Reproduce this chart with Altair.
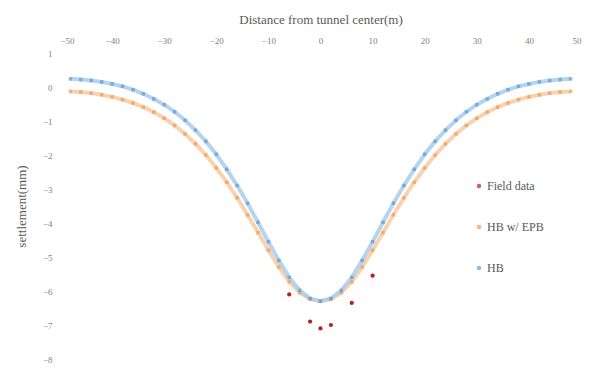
import altair as alt
import pandas as pd

# distances (m) for model curves, symmetric about tunnel center
half_x = [0, 2, 4, 6, 8, 10, 12, 14, 16, 18, 20, 22, 24, 26, 28, 30, 32, 34, 36, 38, 40, 42, 44, 46, 48]
hb_half = [-6.30, -6.22, -5.98, -5.60, -5.10, -4.55, -3.98, -3.42, -2.90, -2.42, -1.98, -1.60, -1.27,
           -0.98, -0.73, -0.52, -0.35, -0.20, -0.08, 0.02, 0.09, 0.15, 0.19, 0.22, 0.24]
epb_half = [-6.30, -6.24, -6.05, -5.73, -5.30, -4.80, -4.28, -3.76, -3.26, -2.80, -2.38, -2.00, -1.67,
            -1.38, -1.13, -0.92, -0.74, -0.59, -0.47, -0.37, -0.29, -0.23, -0.18, -0.15, -0.13]

field_x = [-6, -2, 0, 2, 6, 10]
field_y = [-6.1, -6.9, -7.1, -7.0, -6.35, -5.55]

x_ticks = [-50, -40, -30, -20, -10, 0, 10, 20, 30, 40, 50]
y_ticks = [1, 0, -1, -2, -3, -4, -5, -6, -7, -8]

series_names = ["Field data", "HB w/ EPB", "HB"]
series_colors = ["#B22222", "#EE9A55", "#5B9BD5"]
line_colors = ["#B22222", "#F8CBA0", "#A9CDEB"]

full_x = [-v for v in reversed(half_x[1:])] + half_x
hb_full = list(reversed(hb_half[1:])) + hb_half
epb_full = list(reversed(epb_half[1:])) + epb_half

model = pd.DataFrame({
    "x": full_x * 2,
    "y": epb_full + hb_full,
    "series": ["HB w/ EPB"] * len(full_x) + ["HB"] * len(full_x),
})
field = pd.DataFrame({"x": field_x, "y": field_y, "series": ["Field data"] * len(field_x)})

serif = "Times New Roman"

xs = alt.Scale(domain=[-50, 50], nice=False, zero=False)
ys = alt.Scale(domain=[-8, 1], nice=False, zero=False)

x_enc = alt.X("x:Q", scale=xs, axis=alt.Axis(
    orient="top", values=x_ticks, title="Distance from tunnel center(m)", format="d",
    titlePadding=10, labelPadding=8))
y_enc = alt.Y("y:Q", scale=ys, axis=alt.Axis(
    values=y_ticks, title="settlement(mm)", format="d",
    titlePadding=14, labelPadding=8))

color_scale = alt.Scale(domain=series_names, range=series_colors)
color_legend = alt.Color("series:N", scale=color_scale,
                         legend=alt.Legend(
                             title=None, orient="none", legendX=413, legendY=127,
                             symbolType="circle", symbolSize=20, rowPadding=29,
                             labelOffset=2))

lines = alt.Chart(model).mark_line(strokeWidth=4, opacity=0.85).encode(
    x=x_enc, y=y_enc,
    stroke=alt.Stroke("series:N", scale=alt.Scale(domain=series_names, range=line_colors), legend=None),
    detail="series:N",
)
markers = alt.Chart(model).mark_point(filled=True, size=12, shape="square", opacity=0.7).encode(
    x=x_enc, y=y_enc, color=color_legend,
)
pts = alt.Chart(field).mark_point(filled=True, size=18, opacity=1).encode(
    x=x_enc, y=y_enc, color=color_legend,
)

chart = alt.layer(lines, markers, pts).resolve_scale(stroke="independent").properties(
    width=521, height=306, autosize="none",
    padding={"left": 60, "top": 53, "right": 14, "bottom": 10},
    background="white",
).configure_view(stroke=None).configure_axis(
    titleFont=serif, titleFontSize=13, titleFontWeight="normal", titleColor="#595959",
    labelFont=serif, labelFontSize=9, labelColor="#7f7f7f",
    labelOverlap=False, domain=False, ticks=False, grid=False,
).configure_legend(
    labelFont=serif, labelFontSize=12, labelColor="#595959",
)

chart.save("out.html", embed_options={"renderer": "svg", "actions": False})
